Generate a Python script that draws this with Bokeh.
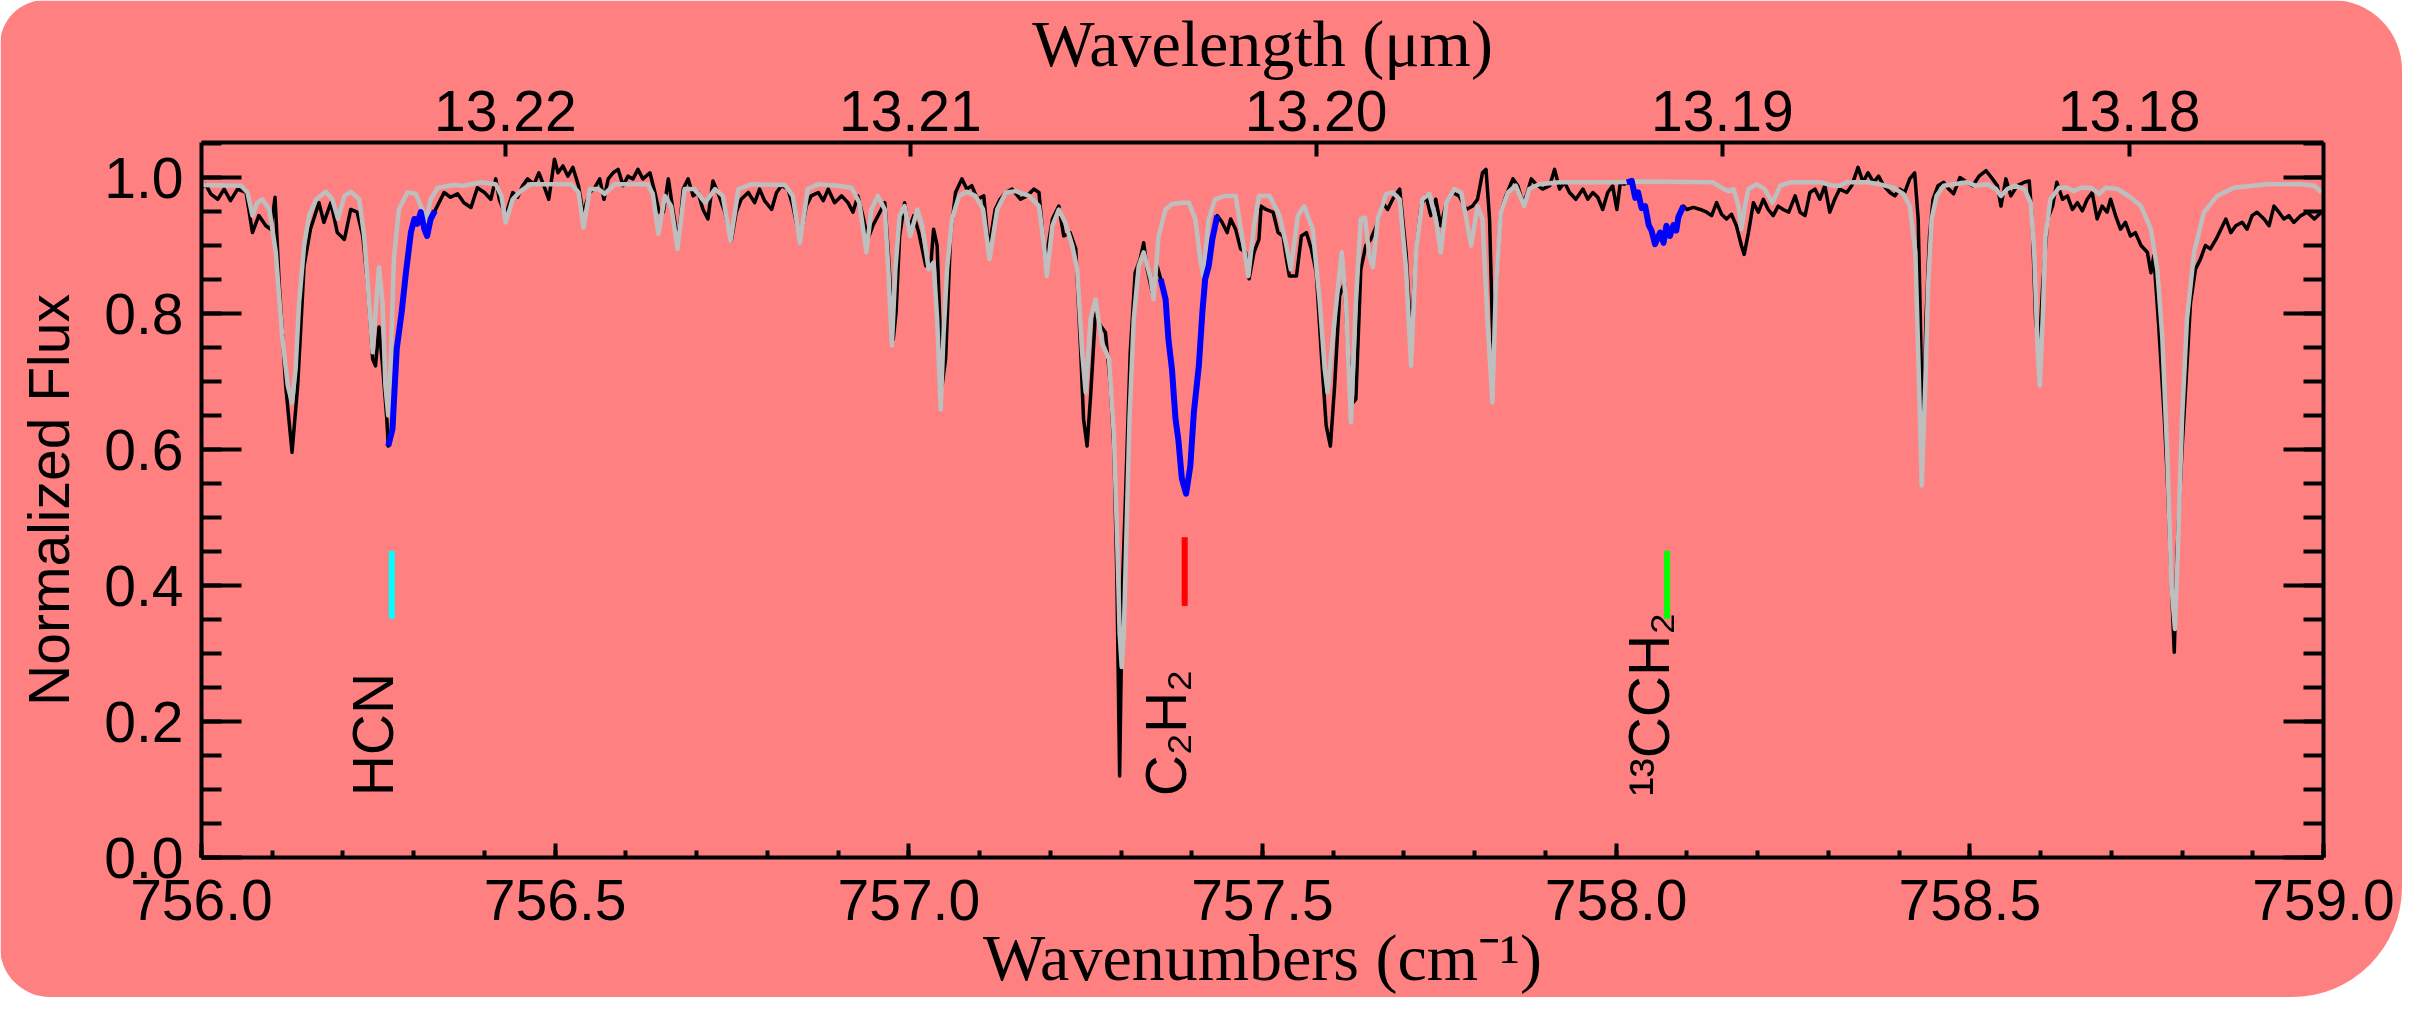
import math
from bokeh.plotting import figure
from bokeh.models import (Range1d, LinearAxis, SingleIntervalTicker, FixedTicker,
                          NumeralTickFormatter, CustomJSTickFormatter)
from bokeh.core.properties import value
from bokeh.embed import file_html
from bokeh.resources import INLINE

# ---------------- data (wavenumber cm^-1, normalized flux) ----------------
obs_a = [(756.000, 0.985), (756.006, 0.990), (756.013, 0.976), (756.023, 0.968), (756.032, 0.983),
         (756.041, 0.966), (756.051, 0.983), (756.063, 0.978), (756.072, 0.919), (756.081, 0.944),
         (756.091, 0.929), (756.098, 0.924), (756.104, 0.971), (756.110, 0.841), (756.119, 0.694),
         (756.128, 0.596), (756.136, 0.694), (756.145, 0.870), (756.154, 0.924), (756.166, 0.963),
         (756.173, 0.934), (756.183, 0.963), (756.192, 0.919), (756.202, 0.909), (756.211, 0.953),
         (756.220, 0.949), (756.228, 0.914), (756.235, 0.841), (756.242, 0.733), (756.246, 0.723),
         (756.251, 0.780), (756.256, 0.723), (756.262, 0.645)]

hcn_seg = [(756.264, 0.605), (756.270, 0.630), (756.276, 0.748), (756.283, 0.802), (756.289, 0.860),
           (756.296, 0.919), (756.301, 0.939), (756.305, 0.932), (756.310, 0.949), (756.315, 0.924),
           (756.319, 0.914), (756.324, 0.939), (756.330, 0.951)]

obs_b = [(756.343, 0.978), (756.352, 0.971), (756.362, 0.976), (756.371, 0.963), (756.381, 0.956),
         (756.390, 0.985), (756.400, 0.978), (756.409, 0.968), (756.416, 0.998), (756.421, 0.968),
         (756.430, 0.944), (756.440, 0.978), (756.447, 0.971), (756.454, 0.988), (756.461, 0.998),
         (756.470, 0.990), (756.477, 1.007), (756.484, 0.988), (756.491, 0.968), (756.499, 1.027),
         (756.504, 1.007), (756.511, 1.017), (756.518, 1.002), (756.525, 1.015), (756.533, 0.988),
         (756.540, 0.944), (756.544, 0.963), (756.549, 0.978), (756.556, 0.985), (756.563, 0.998),
         (756.569, 0.968), (756.575, 0.998), (756.582, 1.007), (756.589, 1.012), (756.596, 0.988),
         (756.603, 1.002), (756.610, 0.998), (756.617, 1.012), (756.624, 0.998), (756.634, 1.007),
         (756.641, 0.978), (756.647, 0.949), (756.653, 0.949), (756.660, 0.998), (756.667, 0.949),
         (756.674, 0.904), (756.681, 0.983), (756.688, 0.998), (756.695, 0.973), (756.702, 0.978),
         (756.709, 0.953), (756.716, 0.939), (756.723, 0.995), (756.730, 0.978), (756.740, 0.949),
         (756.749, 0.907), (756.756, 0.949), (756.763, 0.968), (756.773, 0.978), (756.782, 0.963),
         (756.789, 0.983), (756.796, 0.966), (756.806, 0.953), (756.813, 0.978), (756.820, 0.988),
         (756.829, 0.983), (756.836, 0.958), (756.846, 0.909), (756.855, 0.958), (756.862, 0.973),
         (756.872, 0.978), (756.879, 0.966), (756.886, 0.983), (756.895, 0.963), (756.905, 0.973),
         (756.914, 0.963), (756.921, 0.949), (756.928, 0.973), (756.935, 0.944), (756.942, 0.909),
         (756.949, 0.929), (756.959, 0.949), (756.966, 0.963), (756.971, 0.890), (756.978, 0.762),
         (756.982, 0.802), (756.987, 0.914), (756.994, 0.963), (757.000, 0.924), (757.007, 0.944),
         (757.014, 0.919), (757.024, 0.870), (757.031, 0.870), (757.035, 0.924), (757.040, 0.900),
         (757.047, 0.694), (757.052, 0.733), (757.059, 0.914), (757.066, 0.978), (757.075, 0.998),
         (757.082, 0.983), (757.089, 0.988), (757.097, 0.968), (757.106, 0.973), (757.113, 0.895),
         (757.122, 0.953), (757.129, 0.968), (757.137, 0.978), (757.146, 0.983), (757.158, 0.968),
         (757.167, 0.973), (757.177, 0.983), (757.184, 0.978), (757.193, 0.875), (757.203, 0.939),
         (757.212, 0.958), (757.219, 0.914), (757.228, 0.919), (757.236, 0.895), (757.243, 0.743),
         (757.247, 0.645), (757.252, 0.605), (757.257, 0.679), (757.264, 0.802), (757.271, 0.782),
         (757.278, 0.772), (757.285, 0.694), (757.290, 0.600), (757.294, 0.420), (757.298, 0.120),
         (757.302, 0.400), (757.306, 0.520), (757.310, 0.650), (757.313, 0.743), (757.320, 0.860),
         (757.327, 0.880), (757.332, 0.904), (757.337, 0.865), (757.344, 0.831), (757.351, 0.870)]

c2h2_seg = [(757.356, 0.851), (757.363, 0.821), (757.367, 0.762), (757.372, 0.718), (757.377, 0.645),
            (757.381, 0.615), (757.386, 0.557), (757.392, 0.535), (757.398, 0.576), (757.403, 0.655),
            (757.410, 0.723), (757.415, 0.802), (757.419, 0.851), (757.424, 0.870), (757.429, 0.909),
            (757.436, 0.944)]

obs_c = [(757.443, 0.934), (757.450, 0.919), (757.455, 0.939), (757.462, 0.924), (757.469, 0.895),
         (757.476, 0.890), (757.481, 0.851), (757.488, 0.890), (757.495, 0.909), (757.498, 0.958),
         (757.505, 0.953), (757.515, 0.949), (757.522, 0.919), (757.529, 0.914), (757.533, 0.885),
         (757.538, 0.855), (757.548, 0.855), (757.555, 0.914), (757.562, 0.919), (757.569, 0.895),
         (757.576, 0.860), (757.583, 0.743), (757.590, 0.635), (757.596, 0.605), (757.602, 0.694),
         (757.609, 0.826), (757.616, 0.846), (757.621, 0.743), (757.628, 0.669), (757.632, 0.674),
         (757.639, 0.865), (757.646, 0.900), (757.653, 0.909), (757.661, 0.929), (757.670, 0.963),
         (757.677, 0.953), (757.684, 0.968), (757.694, 0.983), (757.703, 0.890), (757.710, 0.762),
         (757.717, 0.890), (757.724, 0.958), (757.731, 0.973), (757.738, 0.944), (757.745, 0.968),
         (757.752, 0.929), (757.760, 0.963), (757.769, 0.978), (757.778, 0.973), (757.788, 0.953),
         (757.797, 0.958), (757.804, 0.968), (757.811, 1.007), (757.816, 1.012), (757.821, 0.939),
         (757.826, 0.743), (757.830, 0.841), (757.837, 0.949), (757.844, 0.973), (757.854, 0.998),
         (757.861, 0.988), (757.868, 0.963), (757.873, 0.973), (757.880, 0.998), (757.887, 0.990),
         (757.896, 0.983), (757.906, 0.988), (757.913, 1.012), (757.920, 0.983), (757.927, 0.993),
         (757.934, 0.978), (757.943, 0.968), (757.953, 0.983), (757.960, 0.968), (757.967, 0.978),
         (757.974, 0.971), (757.981, 0.953), (757.988, 0.978), (757.995, 0.988), (758.001, 0.953),
         (758.006, 0.993), (758.011, 0.990)]

c13_seg = [(758.015, 0.993), (758.022, 0.995), (758.027, 0.970), (758.031, 0.978), (758.036, 0.955),
           (758.041, 0.958), (758.046, 0.930), (758.050, 0.922), (758.055, 0.902), (758.059, 0.912),
           (758.062, 0.919), (758.067, 0.904), (758.071, 0.929), (758.076, 0.914), (758.081, 0.930),
           (758.085, 0.922), (758.088, 0.942), (758.095, 0.958)]

obs_d = [(758.100, 0.953), (758.109, 0.956), (758.119, 0.953), (758.128, 0.949), (758.135, 0.944),
         (758.142, 0.963), (758.149, 0.946), (758.156, 0.939), (758.163, 0.946), (758.170, 0.929),
         (758.177, 0.900), (758.181, 0.887), (758.187, 0.919), (758.194, 0.963), (758.201, 0.949),
         (758.208, 0.968), (758.215, 0.953), (758.222, 0.944), (758.229, 0.958), (758.236, 0.953),
         (758.244, 0.949), (758.253, 0.973), (758.260, 0.949), (758.267, 0.944), (758.274, 0.978),
         (758.281, 0.983), (758.288, 0.968), (758.295, 0.988), (758.302, 0.949), (758.309, 0.968),
         (758.316, 0.983), (758.326, 0.978), (758.333, 0.988), (758.342, 1.015), (758.349, 0.993),
         (758.356, 1.007), (758.364, 0.993), (758.371, 1.002), (758.378, 0.988), (758.387, 0.978),
         (758.394, 0.973), (758.401, 0.983), (758.408, 0.978), (758.415, 0.998), (758.422, 1.007),
         (758.427, 0.939), (758.432, 0.694), (758.434, 0.620), (758.438, 0.792), (758.443, 0.914),
         (758.448, 0.968), (758.455, 0.988), (758.463, 0.993), (758.470, 0.983), (758.477, 0.976),
         (758.486, 1.000), (758.496, 0.993), (758.504, 0.988), (758.513, 1.002), (758.523, 1.010),
         (758.532, 0.998), (758.539, 0.988), (758.544, 0.958), (758.551, 0.998), (758.558, 0.973),
         (758.567, 0.988), (758.577, 0.993), (758.584, 0.995), (758.588, 0.939), (758.593, 0.792),
         (758.598, 0.743), (758.603, 0.841), (758.610, 0.939), (758.617, 0.958), (758.623, 0.993),
         (758.631, 0.968), (758.638, 0.973), (758.645, 0.953), (758.652, 0.963), (758.659, 0.951),
         (758.666, 0.968), (758.673, 0.978), (758.680, 0.939), (758.687, 0.958), (758.694, 0.949),
         (758.699, 0.968), (758.706, 0.944), (758.713, 0.924), (758.720, 0.934), (758.727, 0.914),
         (758.734, 0.919), (758.742, 0.900), (758.751, 0.890), (758.756, 0.860), (758.760, 0.885),
         (758.767, 0.782), (758.775, 0.645), (758.779, 0.561), (758.785, 0.400), (758.789, 0.302),
         (758.793, 0.449), (758.800, 0.601), (758.808, 0.743), (758.812, 0.816), (758.819, 0.865),
         (758.826, 0.880), (758.833, 0.900), (758.840, 0.895), (758.848, 0.909), (758.855, 0.924),
         (758.862, 0.939), (758.869, 0.919), (758.876, 0.929), (758.885, 0.934), (758.892, 0.924),
         (758.899, 0.944), (758.906, 0.949), (758.916, 0.939), (758.923, 0.929), (758.930, 0.958),
         (758.937, 0.949), (758.944, 0.939), (758.951, 0.944), (758.958, 0.934), (758.968, 0.944),
         (758.977, 0.949), (758.987, 0.939), (758.997, 0.949)]

model = [(756.000, 0.989), (756.056, 0.988), (756.065, 0.978), (756.072, 0.944), (756.079, 0.963),
         (756.086, 0.968), (756.096, 0.953), (756.105, 0.890), (756.114, 0.767), (756.122, 0.694),
         (756.128, 0.669), (756.133, 0.718), (756.138, 0.816), (756.145, 0.900), (756.152, 0.944),
         (756.162, 0.968), (756.176, 0.979), (756.185, 0.968), (756.193, 0.939), (756.202, 0.973),
         (756.211, 0.979), (756.223, 0.968), (756.230, 0.914), (756.237, 0.816), (756.242, 0.743),
         (756.246, 0.802), (756.251, 0.868), (756.256, 0.816), (756.260, 0.694), (756.264, 0.650),
         (756.268, 0.743), (756.272, 0.880), (756.279, 0.953), (756.291, 0.978), (756.303, 0.976),
         (756.312, 0.953), (756.317, 0.936), (756.324, 0.968), (756.334, 0.985), (756.357, 0.989),
         (756.371, 0.988), (756.395, 0.993), (756.416, 0.990), (756.424, 0.973), (756.430, 0.934),
         (756.440, 0.968), (756.451, 0.980), (756.465, 0.990), (756.494, 0.990), (756.523, 0.990),
         (756.533, 0.978), (756.540, 0.926), (756.549, 0.983), (756.561, 0.983), (756.570, 0.976),
         (756.584, 0.990), (756.631, 0.990), (756.638, 0.976), (756.646, 0.917), (756.655, 0.973),
         (756.664, 0.958), (756.673, 0.895), (756.683, 0.983), (756.697, 0.983), (756.712, 0.963),
         (756.726, 0.983), (756.737, 0.973), (756.748, 0.907), (756.759, 0.983), (756.777, 0.990),
         (756.825, 0.989), (756.836, 0.973), (756.846, 0.904), (756.857, 0.983), (756.872, 0.990),
         (756.900, 0.988), (756.919, 0.985), (756.930, 0.963), (756.940, 0.890), (756.947, 0.953),
         (756.956, 0.973), (756.966, 0.953), (756.971, 0.865), (756.976, 0.753), (756.981, 0.865),
         (756.987, 0.944), (756.994, 0.958), (757.002, 0.914), (757.012, 0.953), (757.019, 0.929),
         (757.028, 0.865), (757.035, 0.875), (757.040, 0.792), (757.045, 0.659), (757.049, 0.767),
         (757.054, 0.865), (757.061, 0.939), (757.071, 0.973), (757.082, 0.979), (757.094, 0.973),
         (757.105, 0.953), (757.114, 0.880), (757.125, 0.953), (757.137, 0.978), (757.151, 0.980),
         (757.170, 0.973), (757.184, 0.958), (757.191, 0.900), (757.195, 0.855), (757.203, 0.929),
         (757.212, 0.953), (757.221, 0.934), (757.231, 0.900), (757.238, 0.865), (757.245, 0.743),
         (757.250, 0.684), (757.257, 0.792), (757.264, 0.821), (757.273, 0.757), (757.283, 0.733),
         (757.290, 0.620), (757.295, 0.450), (757.298, 0.330), (757.301, 0.280), (757.304, 0.330),
         (757.307, 0.450), (757.312, 0.645), (757.318, 0.792), (757.325, 0.870), (757.332, 0.890),
         (757.342, 0.851), (757.346, 0.821), (757.353, 0.914), (757.363, 0.953), (757.372, 0.961),
         (757.386, 0.963), (757.396, 0.963), (757.405, 0.939), (757.412, 0.880), (757.416, 0.855),
         (757.424, 0.939), (757.433, 0.968), (757.447, 0.973), (757.462, 0.973), (757.471, 0.914),
         (757.480, 0.855), (757.488, 0.929), (757.495, 0.973), (757.510, 0.973), (757.524, 0.944),
         (757.533, 0.904), (757.540, 0.865), (757.550, 0.944), (757.559, 0.958), (757.571, 0.924),
         (757.581, 0.816), (757.588, 0.718), (757.592, 0.684), (757.602, 0.792), (757.612, 0.890),
         (757.618, 0.816), (757.625, 0.640), (757.632, 0.816), (757.639, 0.939), (757.645, 0.941),
         (757.651, 0.885), (757.656, 0.868), (757.663, 0.939), (757.675, 0.976), (757.684, 0.978),
         (757.694, 0.968), (757.703, 0.865), (757.710, 0.723), (757.717, 0.890), (757.726, 0.968),
         (757.736, 0.976), (757.745, 0.939), (757.752, 0.890), (757.760, 0.963), (757.771, 0.983),
         (757.781, 0.978), (757.790, 0.929), (757.795, 0.900), (757.804, 0.958), (757.811, 0.939),
         (757.818, 0.792), (757.825, 0.669), (757.830, 0.841), (757.837, 0.949), (757.847, 0.978),
         (757.858, 0.988), (757.866, 0.968), (757.870, 0.958), (757.877, 0.983), (757.891, 0.990),
         (757.920, 0.993), (757.996, 0.993), (758.043, 0.994), (758.137, 0.993), (758.152, 0.983),
         (758.159, 0.980), (758.166, 0.983), (758.173, 0.958), (758.177, 0.924), (758.182, 0.958),
         (758.187, 0.983), (758.199, 0.990), (758.210, 0.983), (758.221, 0.963), (758.232, 0.988),
         (758.246, 0.993), (758.288, 0.993), (758.307, 0.988), (758.316, 0.988), (758.326, 0.993),
         (758.354, 0.993), (758.373, 0.990), (758.392, 0.985), (758.406, 0.976), (758.415, 0.958),
         (758.423, 0.890), (758.427, 0.743), (758.432, 0.547), (758.437, 0.694), (758.441, 0.841),
         (758.446, 0.939), (758.453, 0.973), (758.463, 0.988), (758.496, 0.993), (758.508, 0.988),
         (758.525, 0.990), (758.537, 0.983), (758.544, 0.973), (758.553, 0.983), (758.563, 0.988),
         (758.577, 0.983), (758.586, 0.963), (758.591, 0.890), (758.596, 0.743), (758.599, 0.694),
         (758.603, 0.792), (758.607, 0.914), (758.614, 0.968), (758.626, 0.985), (758.638, 0.985),
         (758.647, 0.980), (758.657, 0.985), (758.671, 0.985), (758.683, 0.976), (758.692, 0.985),
         (758.709, 0.983), (758.727, 0.971), (758.742, 0.958), (758.756, 0.924), (758.765, 0.865),
         (758.772, 0.767), (758.779, 0.596), (758.785, 0.400), (758.790, 0.336), (758.794, 0.449),
         (758.800, 0.645), (758.807, 0.792), (758.817, 0.890), (758.831, 0.949), (758.850, 0.973),
         (758.873, 0.985), (758.920, 0.990), (758.968, 0.990), (758.987, 0.988), (758.997, 0.978)]

# line identifications
line_names = ["HCN", "C\u2082H\u2082", "\u00b9\u00b3CCH\u2082"]
line_nu = [756.269, 757.390, 758.072]
mark_lo = [0.351, 0.370, 0.351]
mark_hi = [0.451, 0.471, 0.451]
mark_colors = ["#00FFFF", "#FF0000", "#00FF00"]

wl_ticks = [13.22, 13.21, 13.20, 13.19, 13.18]   # micron

# ---------------- figure ----------------
BG = "#FF8080"
observed = obs_a + hcn_seg + obs_b + c2h2_seg + obs_c + c13_seg + obs_d

p = figure(width=2402, height=997, output_backend="svg", toolbar_location=None,
           x_range=Range1d(756.0, 759.0), y_range=Range1d(0.0, 1.0515),
           x_axis_location=None, y_axis_location=None,
           min_border_left=201, min_border_right=79, min_border_top=142, min_border_bottom=140)
p.background_fill_color = BG
p.border_fill_color = BG
p.outline_line_color = None
p.xgrid.visible = False
p.ygrid.visible = False
p.styles = {"border-radius": "45px 70px 110px 50px", "overflow": "hidden"}

SANS = "Liberation Sans"
SERIF = "Liberation Serif"


def style_axis(ax, tin, tmin, standoff):
    ax.axis_line_width = 4
    ax.axis_line_color = "black"
    ax.major_tick_line_width = 4
    ax.minor_tick_line_width = 4
    ax.major_tick_line_color = "black"
    ax.minor_tick_line_color = "black"
    ax.major_tick_in = tin
    ax.major_tick_out = 0
    ax.minor_tick_in = tmin
    ax.minor_tick_out = 0
    ax.major_label_text_font = SANS
    ax.major_label_text_font_size = "57px"
    ax.major_label_text_color = "black"
    ax.major_label_standoff = standoff
    ax.axis_label_text_font_style = "normal"
    ax.axis_label_text_color = "black"


left = LinearAxis(ticker=SingleIntervalTicker(interval=0.2, num_minor_ticks=4),
                  formatter=NumeralTickFormatter(format="0.0"))
style_axis(left, 40, 20, 18)
left.axis_label = "Normalized Flux"
left.axis_label_text_font = SANS
left.axis_label_text_font_size = "57px"
left.axis_label_standoff = 20
p.add_layout(left, "left")

right = LinearAxis(ticker=SingleIntervalTicker(interval=0.2, num_minor_ticks=4),
                   formatter=CustomJSTickFormatter(code="return ''"))
style_axis(right, 40, 20, 0)
p.add_layout(right, "right")

bottom = LinearAxis(ticker=SingleIntervalTicker(interval=0.5, num_minor_ticks=5),
                    formatter=NumeralTickFormatter(format="0.0"))
style_axis(bottom, 14, 7, 22)
bottom.axis_label = "Wavenumbers (cm\u207b\u00b9)"
bottom.axis_label_text_font = SERIF
bottom.axis_label_text_font_size = "66px"
bottom.axis_label_standoff = -2
p.add_layout(bottom, "below")

top = LinearAxis(ticker=FixedTicker(ticks=[1e4 / w for w in wl_ticks], minor_ticks=[]),
                 formatter=CustomJSTickFormatter(code="return (1e4/tick).toFixed(2)"))
style_axis(top, 14, 0, 12)
top.minor_tick_line_color = None
top.axis_label = "Wavelength (\u03bcm)"
top.axis_label_text_font = SERIF
top.axis_label_text_font_size = "66px"
top.axis_label_standoff = 8
p.add_layout(top, "above")

# spectra
p.line([q[0] for q in observed], [q[1] for q in observed], line_color="black", line_width=3.5,
       line_join="round")
p.line([q[0] for q in model], [q[1] for q in model], line_color="#BEBEBE", line_width=4.5,
       line_join="round")
for seg in (hcn_seg, c2h2_seg, c13_seg):
    p.line([q[0] for q in seg], [q[1] for q in seg], line_color="#0000FF", line_width=6,
           line_join="round")

# line markers and labels (labels sit just left of their marker, reading upward)
p.segment(x0=line_nu, y0=mark_lo, x1=line_nu, y1=mark_hi, line_color=mark_colors, line_width=6)
p.text(x=[v - 0.026 for v in line_nu], y=[0.09] * len(line_nu), text=line_names, angle=math.pi / 2,
       text_align="left", text_baseline="alphabetic", text_color="black",
       text_font=value(SANS), text_font_size="57px")

open("out.html", "w").write(file_html(p, INLINE))
